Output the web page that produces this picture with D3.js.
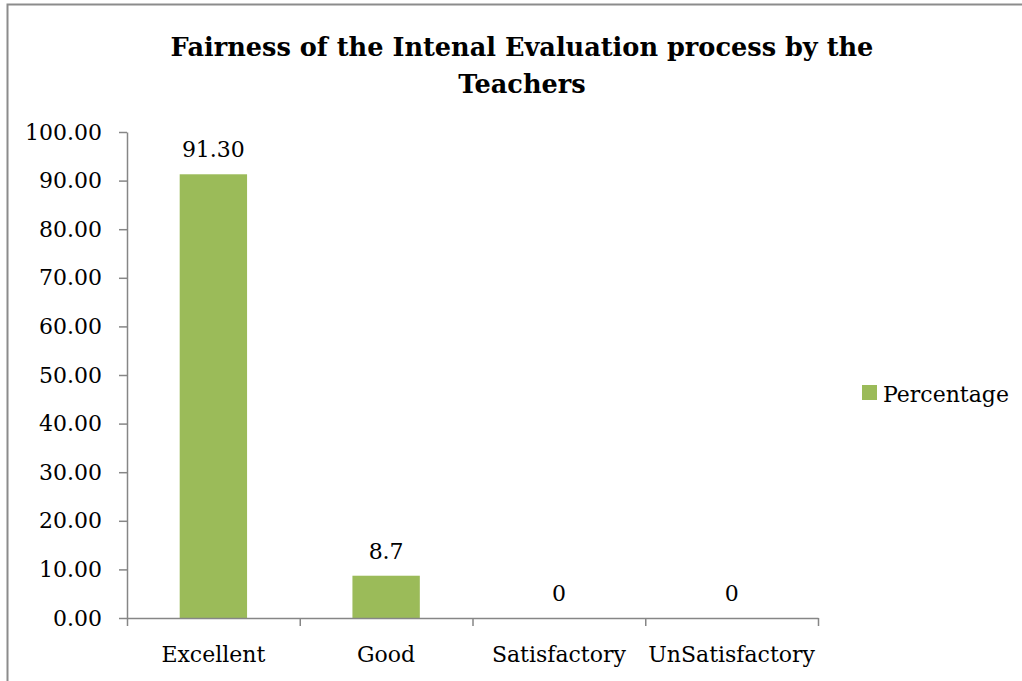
<!DOCTYPE html>
<html>
<head>
<meta charset="utf-8">
<script src="https://cdn.jsdelivr.net/npm/d3@7"></script>
<style>
    body { margin: 0; background: #fff; }
    svg { display: block; font-family: 'DejaVu Serif', serif; }
</style>
</head>
<body>
<div id="chart"></div>
<script>
// Data
const categories = ['Excellent', 'Good', 'Satisfactory', 'UnSatisfactory'];
const values = [91.30, 8.7, 0, 0];
const valueLabels = ['91.30', '8.7', '0', '0'];
const yTicks = [0, 10, 20, 30, 40, 50, 60, 70, 80, 90, 100];
const seriesName = 'Percentage';
const titleLines = ['Fairness of the Intenal Evaluation process by the', 'Teachers'];

const chart = {
    totalWidth: 1022,
    totalHeight: 681,
    left: 127,
    right: 818,
    top: 132,
    bottom: 618
};

const green = '#9bbb59';
const axisGrey = '#868686';

const svg = d3.select('#chart')
    .append('svg')
    .attr('width', chart.totalWidth)
    .attr('height', chart.totalHeight);

// outer frame
svg.append('rect')
    .attr('x', 7.5)
    .attr('y', 4.5)
    .attr('width', 1030)
    .attr('height', 700)
    .attr('fill', 'none')
    .attr('stroke', '#8c8c8c')
    .attr('stroke-width', 2);

// Title
svg.append('text')
    .attr('text-anchor', 'middle')
    .attr('font-weight', 'bold')
    .attr('font-size', 25.6)
    .selectAll('tspan')
    .data(titleLines)
    .enter()
    .append('tspan')
    .attr('x', 522)
    .attr('y', (d, i) => 56 + i * 37)
    .text(d => d);

// Scales
const xScale = d3.scaleBand()
    .domain(categories)
    .range([chart.left, chart.right])
    .paddingInner(0.61)
    .paddingOuter(0.305);

const xBoundary = d3.scaleLinear()
    .domain([0, categories.length])
    .range([chart.left, chart.right]);

const yScale = d3.scaleLinear()
    .domain([0, 100])
    .range([chart.bottom, chart.top]);

// Y axis
const yAxis = d3.axisLeft(yScale)
    .tickValues(yTicks)
    .tickFormat(d3.format('.2f'))
    .tickSize(8)
    .tickPadding(17)
    .tickSizeOuter(0);

const gy = svg.append('g')
    .attr('transform', `translate(${chart.left},0)`)
    .call(yAxis);
gy.select('.domain').attr('stroke', axisGrey).attr('stroke-width', 1.5);
gy.selectAll('.tick line').attr('stroke', axisGrey).attr('stroke-width', 1.5);
gy.selectAll('.tick text')
    .attr('font-family', 'DejaVu Serif')
    .attr('font-size', 22)
    .attr('fill', '#000');

// Bars
svg.append('g')
    .selectAll('rect')
    .data(values)
    .enter()
    .append('rect')
    .attr('x', (d, i) => xScale(categories[i]))
    .attr('width', xScale.bandwidth())
    .attr('y', d => yScale(d))
    .attr('height', d => yScale(0) - yScale(d))
    .attr('fill', green);

// X axis with ticks at category boundaries
const xAxis = d3.axisBottom(xBoundary)
    .tickValues(d3.range(categories.length + 1))
    .tickFormat('')
    .tickSize(8)
    .tickSizeOuter(0);

const gx = svg.append('g')
    .attr('transform', `translate(0,${chart.bottom})`)
    .call(xAxis);
gx.select('.domain').attr('stroke', axisGrey).attr('stroke-width', 1.5);
gx.selectAll('.tick line').attr('stroke', axisGrey).attr('stroke-width', 1.5);

// Category labels
svg.append('g')
    .selectAll('text')
    .data(categories)
    .enter()
    .append('text')
    .attr('x', d => xScale(d) + xScale.bandwidth() / 2)
    .attr('y', 662)
    .attr('text-anchor', 'middle')
    .attr('font-size', 22)
    .text(d => d);

// Data labels
svg.append('g')
    .selectAll('text')
    .data(values)
    .enter()
    .append('text')
    .attr('x', (d, i) => xScale(categories[i]) + xScale.bandwidth() / 2)
    .attr('y', d => yScale(d) - 17)
    .attr('text-anchor', 'middle')
    .attr('font-size', 22)
    .text((d, i) => valueLabels[i]);

// Legend
const legend = svg.append('g')
    .attr('transform', 'translate(862,385)');
legend.append('rect')
    .attr('width', 15)
    .attr('height', 15)
    .attr('fill', green);
legend.append('text')
    .attr('x', 21)
    .attr('y', 17)
    .attr('font-size', 22)
    .text(seriesName);
</script>
</body>
</html>
